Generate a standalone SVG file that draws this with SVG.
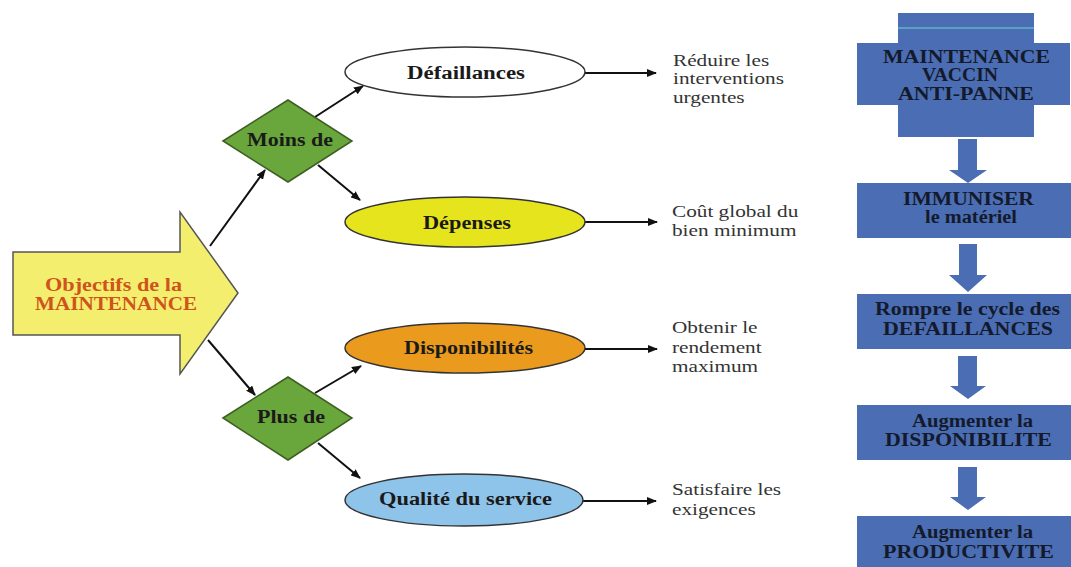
<svg xmlns="http://www.w3.org/2000/svg" width="1071" height="567" viewBox="0 0 1071 567">
<defs>
<marker id="ah" markerWidth="10" markerHeight="8" refX="9" refY="4" orient="auto" markerUnits="userSpaceOnUse">
<path d="M0,0 L10,4 L0,8 Z" fill="#111"/>
</marker>
<style>
.c{stroke:#111;stroke-width:2;fill:none;marker-end:url(#ah)}
.b{font-family:"Liberation Serif","Times New Roman",serif;font-weight:bold;font-size:18px;fill:#1a1a1a}
.r{font-family:"Liberation Serif","Times New Roman",serif;font-size:17px;fill:#333}
.w{font-family:"Liberation Serif","Times New Roman",serif;font-weight:bold;font-size:18px;fill:#141a2c}
.o{font-family:"Liberation Serif","Times New Roman",serif;font-weight:bold;font-size:18px;fill:#cf541c}
.bx{fill:#4a6db3}
.el{stroke:#333;stroke-width:1.5}
.dm{fill:#69a63c;stroke:#3d5e22;stroke-width:1.5}
</style>
</defs>
<rect width="1071" height="567" fill="#fff"/>

<g id="connectors">
<line class="c" x1="210" y1="246" x2="265" y2="170"/>
<line class="c" x1="208" y1="340" x2="255" y2="395"/>
<line class="c" x1="315" y1="117" x2="363" y2="86"/>
<line class="c" x1="318" y1="165" x2="360" y2="200"/>
<line class="c" x1="315" y1="393" x2="361" y2="366"/>
<line class="c" x1="318" y1="443" x2="360" y2="478"/>
<line class="c" x1="585" y1="73" x2="656" y2="73"/>
<line class="c" x1="585" y1="222" x2="657" y2="222"/>
<line class="c" x1="585" y1="349" x2="657" y2="349"/>
<line class="c" x1="583" y1="501" x2="656" y2="501"/>
<path class="bx" d="M958,139 H977 V170 H987 L968,183 L949,170 H958 Z"/>
<path class="bx" d="M959,244 H977 V275 H987 L968,292 L949,275 H959 Z"/>
<path class="bx" d="M958,356 H977 V386 H986 L968,399 L950,386 H958 Z"/>
<path class="bx" d="M958,467 H977 V497 H986 L968,510 L950,497 H958 Z"/>
</g>

<g id="objectifs">
<path d="M13,252 H180 V212 L238,293 L180,374 V335 H13 Z" fill="#f4ee6e" stroke="#555" stroke-width="1.5"/>
<text class="o" x="45" y="291" textLength="137" lengthAdjust="spacingAndGlyphs">Objectifs de la</text>
<text class="o" x="35" y="310" textLength="162" lengthAdjust="spacingAndGlyphs">MAINTENANCE</text>
</g>

<g id="moins">
<path class="dm" d="M223,141 L288,100 L352,141 L288,182 Z"/>
<text class="b" x="247" y="146" textLength="86" lengthAdjust="spacingAndGlyphs">Moins de</text>
</g>
<g id="plus">
<path class="dm" d="M223,418 L288,377 L352,418 L288,460 Z"/>
<text class="b" x="257" y="423" textLength="68" lengthAdjust="spacingAndGlyphs">Plus de</text>
</g>

<g id="defaillances">
<ellipse class="el" cx="465" cy="72" rx="120" ry="25" fill="#fff"/>
<text class="b" x="407" y="79" textLength="118" lengthAdjust="spacingAndGlyphs">Défaillances</text>
</g>
<g id="depenses">
<ellipse class="el" cx="465" cy="222" rx="120" ry="25" fill="#e6e41c"/>
<text class="b" x="423" y="229" textLength="88" lengthAdjust="spacingAndGlyphs">Dépenses</text>
</g>
<g id="disponibilites">
<ellipse class="el" cx="465" cy="348" rx="120" ry="25" fill="#ea9a1c"/>
<text class="b" x="404" y="354" textLength="129" lengthAdjust="spacingAndGlyphs">Disponibilités</text>
</g>
<g id="qualite">
<ellipse class="el" cx="464" cy="500" rx="119" ry="26" fill="#8ec4ea"/>
<text class="b" x="379" y="505" textLength="173" lengthAdjust="spacingAndGlyphs">Qualité du service</text>
</g>

<g id="t1">
<text class="r" transform="translate(673,66) scale(1.25,1)">Réduire les</text>
<text class="r" transform="translate(673,84) scale(1.25,1)">interventions</text>
<text class="r" transform="translate(673,103) scale(1.25,1)">urgentes</text>
</g>
<g id="t2">
<text class="r" transform="translate(672,217) scale(1.25,1)">Coût global du</text>
<text class="r" transform="translate(672,236) scale(1.25,1)">bien minimum</text>
</g>
<g id="t3">
<text class="r" transform="translate(672,333) scale(1.25,1)">Obtenir le</text>
<text class="r" transform="translate(672,353) scale(1.25,1)">rendement</text>
<text class="r" transform="translate(672,372) scale(1.25,1)">maximum</text>
</g>
<g id="t4">
<text class="r" transform="translate(672,495) scale(1.25,1)">Satisfaire les</text>
<text class="r" transform="translate(672,515) scale(1.25,1)">exigences</text>
</g>

<g id="vaccin">
<path class="bx" d="M898,13 H1034 V43 H1070 V105 H1034 V137 H898 V105 H857 V43 H898 Z"/>
<line x1="898" y1="28" x2="1034" y2="28" stroke="#5fb6c4" stroke-width="1.5"/>
<text class="w" x="883" y="63" textLength="167" lengthAdjust="spacingAndGlyphs">MAINTENANCE</text>
<text class="w" x="922" y="81" textLength="76" lengthAdjust="spacingAndGlyphs">VACCIN</text>
<text class="w" x="898" y="100" textLength="136" lengthAdjust="spacingAndGlyphs">ANTI-PANNE</text>
</g>
<g id="immuniser">
<rect class="bx" x="857" y="183" width="214" height="55"/>
<text class="w" x="903" y="205" textLength="131" lengthAdjust="spacingAndGlyphs">IMMUNISER</text>
<text class="w" x="925" y="223" textLength="92" lengthAdjust="spacingAndGlyphs">le matériel</text>
</g>
<g id="rompre">
<rect class="bx" x="857" y="294" width="214" height="55"/>
<text class="w" x="875" y="315" textLength="185" lengthAdjust="spacingAndGlyphs">Rompre le cycle des</text>
<text class="w" x="883" y="335" textLength="170" lengthAdjust="spacingAndGlyphs">DEFAILLANCES</text>
</g>
<g id="disponibilite">
<rect class="bx" x="857" y="405" width="214" height="55"/>
<text class="w" x="912" y="427" textLength="121" lengthAdjust="spacingAndGlyphs">Augmenter la</text>
<text class="w" x="885" y="446" textLength="167" lengthAdjust="spacingAndGlyphs">DISPONIBILITE</text>
</g>
<g id="productivite">
<rect class="bx" x="857" y="516" width="214" height="51"/>
<text class="w" x="912" y="538" textLength="121" lengthAdjust="spacingAndGlyphs">Augmenter la</text>
<text class="w" x="883" y="558" textLength="171" lengthAdjust="spacingAndGlyphs">PRODUCTIVITE</text>
</g>
</svg>
